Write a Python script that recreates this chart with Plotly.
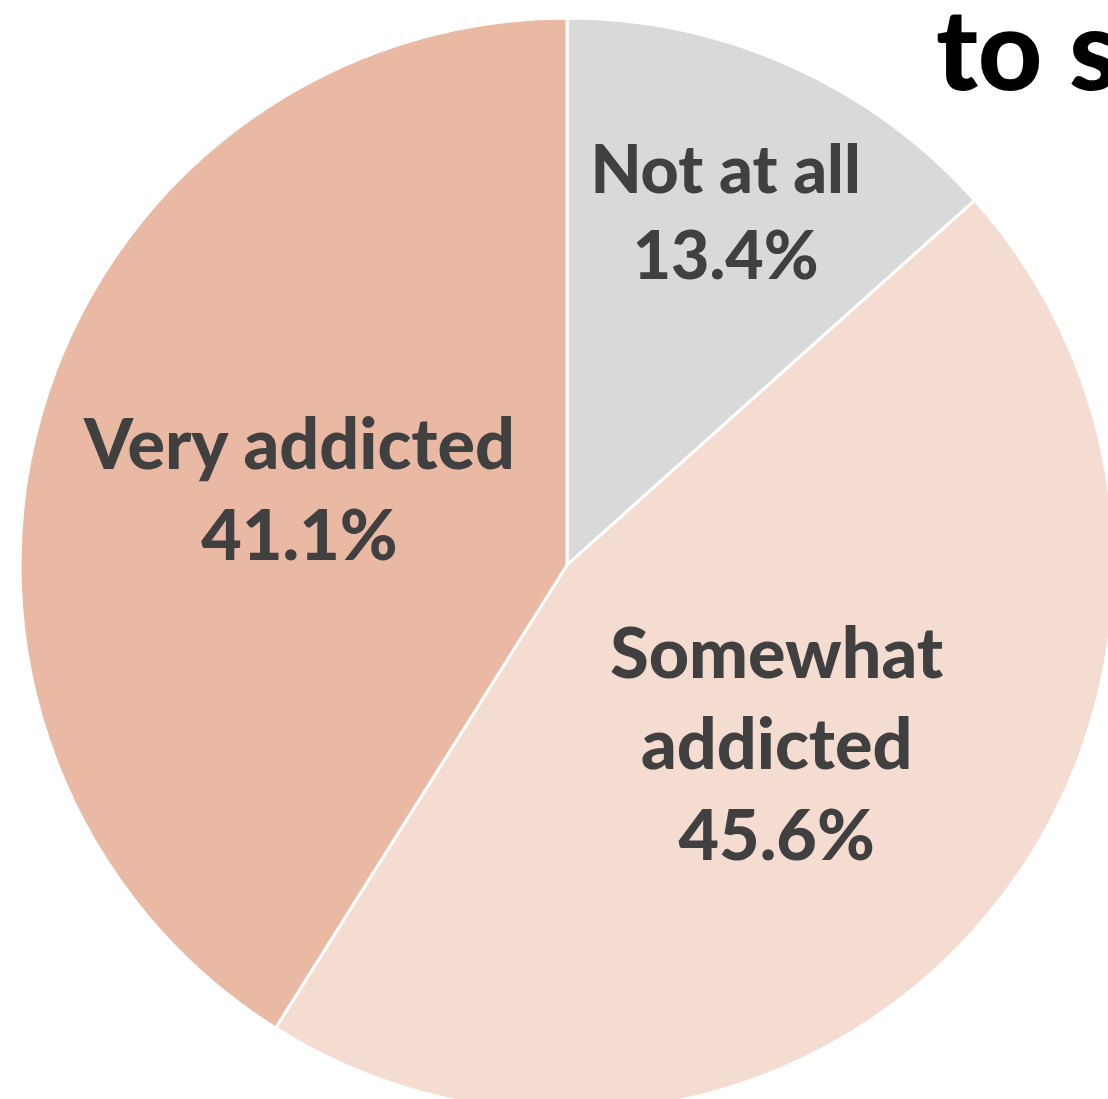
import plotly.graph_objects as go

labels = ["Not at all", "Somewhat<br>addicted", "Very addicted"]
values = [13.4, 45.6, 41.1]
pct_text = ["13.4%", "45.6%", "41.1%"]
colors = ["#D9D9D9", "#F5DCD1", "#E9B9A4"]

W, H = 1200, 1200
cx, cy, r = 567, 565, 547

fig = go.Figure(go.Pie(
    labels=labels,
    values=values,
    text=pct_text,
    texttemplate="%{label}<br>%{text}",
    textinfo="text",
    textposition="inside",
    insidetextorientation="horizontal",
    sort=False,
    direction="clockwise",
    rotation=0,
    marker=dict(colors=colors, line=dict(color="white", width=3)),
    textfont=dict(family="Lato", size=70, color="#404040", weight=900),
    domain=dict(x=[(cx - r) / W, (cx + r) / W], y=[1 - (cy + r) / H, 1 - (cy - r) / H]),
    showlegend=False,
    hoverinfo="skip",
))

fig.update_layout(
    width=W, height=H,
    margin=dict(l=0, r=0, t=0, b=0),
    paper_bgcolor="white",
    plot_bgcolor="white",
    title=dict(text="to social media?", x=936 / W, xanchor="left",
               y=1 - 51 / H, yanchor="middle",
               font=dict(family="Lato", size=112, color="black", weight=900)),
)

post = ("var gd=document.getElementById('{plot_id}');"
        "document.documentElement.style.margin='0';document.body.style.margin='0';"
        "document.documentElement.style.overflow='hidden';document.body.style.overflow='hidden';"
        "var p=gd.parentElement;p.style.width='1108px';p.style.height='1099px';p.style.overflow='hidden';")
fig.write_html("out.html", post_script=post)
